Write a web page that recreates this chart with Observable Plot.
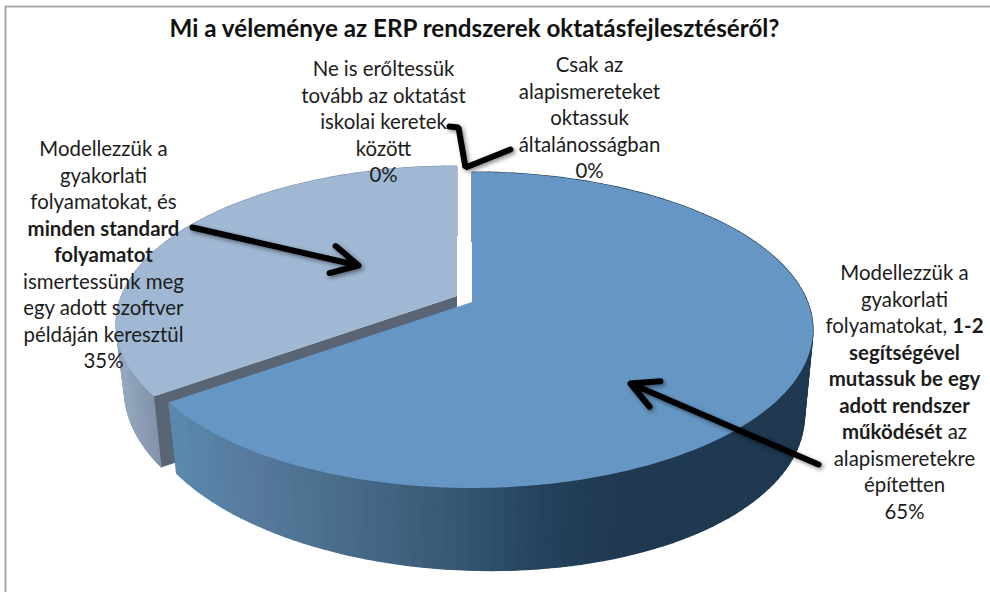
<!DOCTYPE html>
<html><head><meta charset="utf-8">
<script src="https://cdn.jsdelivr.net/npm/d3@7"></script>
<script src="https://cdn.jsdelivr.net/npm/@observablehq/plot@0.6"></script>
<style>html,body{margin:0;padding:0;background:#fff}</style>
</head><body><div id="chart"></div>
<script>
const categories = ["Modellezzük (1-2 rendszer)", "Modellezzük (minden standard folyamat)", "Ne is erőltessük", "Csak az alapismereteket"];
const values = [65, 35, 0, 0];
const titleText = "Mi a véleménye az ERP rendszerek oktatásfejlesztéséről?";
const labelLines = [
  {cx: 103, top: 149, lines: [[["Modellezzük a",0]],[["gyakorlati",0]],[["folyamatokat, és",0]],[["minden standard",1]],[["folyamatot",1]],[["ismertessünk meg",0]],[["egy adott szoftver",0]],[["példáján keresztül",0]],[["35%",0]]]},
  {cx: 383, top: 69, lines: [[["Ne is erőltessük",0]],[["tovább az oktatást",0]],[["iskolai keretek",0]],[["között",0]],[["0%",0]]]},
  {cx: 589, top: 65, lines: [[["Csak az",0]],[["alapismereteket",0]],[["oktassuk",0]],[["általánosságban",0]],[["0%",0]]]},
  {cx: 904, top: 273, lines: [[["Modellezzük a",0]],[["gyakorlati",0]],[["folyamatokat, ",0],["1-2",1]],[["segítségével",1]],[["mutassuk be egy",1]],[["adott rendszer",1]],[["működését",1],[" az",0]],[["alapismeretekre",0]],[["építetten",0]],[["65%",0]]]}
];

// Pie geometry: slices come from the values, the tilted disc from a projective map.
const disc = {a: 335.6, b: 153, k: 0.177};
const depth = {dy: 75, sx: 0.975, sy: 1.04, skew: 0.027};
const apexes = [{x: 472, y: 302}, {x: 457, y: 296}];
const rim = (t, o) => {
  const X = Math.sin(t), Y = Math.cos(t), d = 1 + disc.k * Y;
  return [o.x + disc.a * X / d, o.y - disc.b * Y / d];
};
const low = (t, o) => {
  const [x, y] = rim(t, {x: 0, y: 0});
  return [o.x + depth.sx * x, o.y + depth.dy + depth.sy * y + depth.skew * x];
};
const pieArcs = d3.pie().sort(null)(values);
const N = 140;
const thetas = (a) => d3.range(N + 1).map(i => a.startAngle + (a.endAngle - a.startAngle) * i / N);
const topFan = (a, o) => thetas(a).map(t => { const [x, y] = rim(t, o); return {x1: o.x, y1: o.y, x2: x, y2: y}; });
const sideColorA = d3.scaleLinear().domain([175, 260, 320, 400, 470, 540, 620]).range(["#5a88ae", "#56789b", "#4b708e", "#41617f", "#34546f", "#25425c", "#1e3950"]).clamp(true);
const sideColorB = d3.scaleLinear().domain([120, 150]).range(["#94a7be", "#8494ad"]).clamp(true);
const strips = (a, o, col) => thetas(a).slice(0, -1).flatMap((t, i) => {
  const t2 = a.startAngle + (a.endAngle - a.startAngle) * (i + 1) / N;
  const [ax, ay] = rim(t, o), [bx, by] = low(t, o), [cx, cy] = rim(t2, o), [dx, dy] = low(t2, o);
  const fill = col((ax + cx) / 2);
  return [{x1: ax, y1: ay, x2: bx, y2: by, z: i, fill}, {x1: cx, y1: cy, x2: dx, y2: dy, z: i, fill}];
});
const [arcBlue, arcLight] = pieArcs;
const corner = rim(arcLight.startAngle, apexes[1]), cornerLow = low(arcLight.startAngle, apexes[1]);
const cutFace = [
  {x1: corner[0], y1: corner[1], x2: cornerLow[0], y2: cornerLow[1]},
  {x1: apexes[1].x, y1: apexes[1].y, x2: apexes[1].x, y2: apexes[1].y + depth.dy}
];

// Text layout
const FONT = "Lato, sans-serif";
const FS = 20.4, LH = 26.5;
const ctx = document.createElement("canvas").getContext("2d");
const measure = (s, b) => { ctx.font = `${b ? "bold " : ""}${FS}px Lato`; return ctx.measureText(s).width; };
const runs = labelLines.flatMap(l => l.lines.flatMap((line, i) => {
  const total = d3.sum(line, r => measure(r[0], r[1]));
  let x = l.cx - total / 2;
  return line.map(r => { const o = {x, y: l.top + i * LH, text: r[0], bold: r[1]}; x += measure(r[0], r[1]); return o; });
}));
const shadow = "drop-shadow(2px 2px 2px rgba(0,0,0,0.45))";
const arrows = [
  {x1: 192, y1: 227, x2: 358, y2: 265},
  {x1: 818, y1: 464, x2: 630, y2: 383}
];
const bent = [{x: 449, y: 126}, {x: 458, y: 127}, {x: 465, y: 167}, {x: 510, y: 149}];

const textMark = (data, weight) => Plot.text(data, {x: "x", y: "y", text: "text", textAnchor: "start", lineAnchor: "middle", fontSize: FS, fontFamily: FONT, fill: "#1c1c1c", fontWeight: weight});

const plot = Plot.plot({
  width: 990, height: 592, margin: 0, style: {background: "#fff", overflow: "hidden"},
  x: {domain: [0, 990], range: [0, 990], axis: null},
  y: {domain: [0, 592], range: [0, 592], axis: null},
  marks: [
    Plot.ruleX([5], {y1: 6, y2: 592, stroke: "#a6a6a6", strokeWidth: 2}),
    Plot.ruleY([6], {x1: 5, x2: 990, stroke: "#a6a6a6", strokeWidth: 2}),
    Plot.area(strips(arcLight, apexes[1], sideColorB), {x1: "x1", y1: "y1", x2: "x2", y2: "y2", z: "z", fill: "fill", stroke: "fill", strokeWidth: 1.2}),
    Plot.area(cutFace, {x1: "x1", y1: "y1", x2: "x2", y2: "y2", fill: "#596474"}),
    Plot.area(topFan(arcLight, apexes[1]), {x1: "x1", y1: "y1", x2: "x2", y2: "y2", fill: "#a0b8d3"}),
    Plot.area(strips(arcBlue, apexes[0], sideColorA), {x1: "x1", y1: "y1", x2: "x2", y2: "y2", z: "z", fill: "fill", stroke: "fill", strokeWidth: 1.2}),
    Plot.area(topFan(arcBlue, apexes[0]), {x1: "x1", y1: "y1", x2: "x2", y2: "y2", fill: "#6697c4"}),
    Plot.text([titleText], {x: 474, y: 29, text: d => d, fontSize: 24.2, fontWeight: "bold", fontFamily: FONT, fill: "#111"}),
    textMark(runs.filter(d => !d.bold), "normal"),
    textMark(runs.filter(d => d.bold), "bold"),
    Plot.arrow(arrows, {x1: "x1", y1: "y1", x2: "x2", y2: "y2", stroke: "#000", strokeWidth: 6, headLength: 7.5, headAngle: 55, imageFilter: shadow}),
    Plot.line(bent, {x: "x", y: "y", stroke: "#000", strokeWidth: 6, curve: "linear", strokeLinejoin: "miter", imageFilter: shadow})
  ]
});
document.getElementById("chart").appendChild(plot);
</script></body></html>
